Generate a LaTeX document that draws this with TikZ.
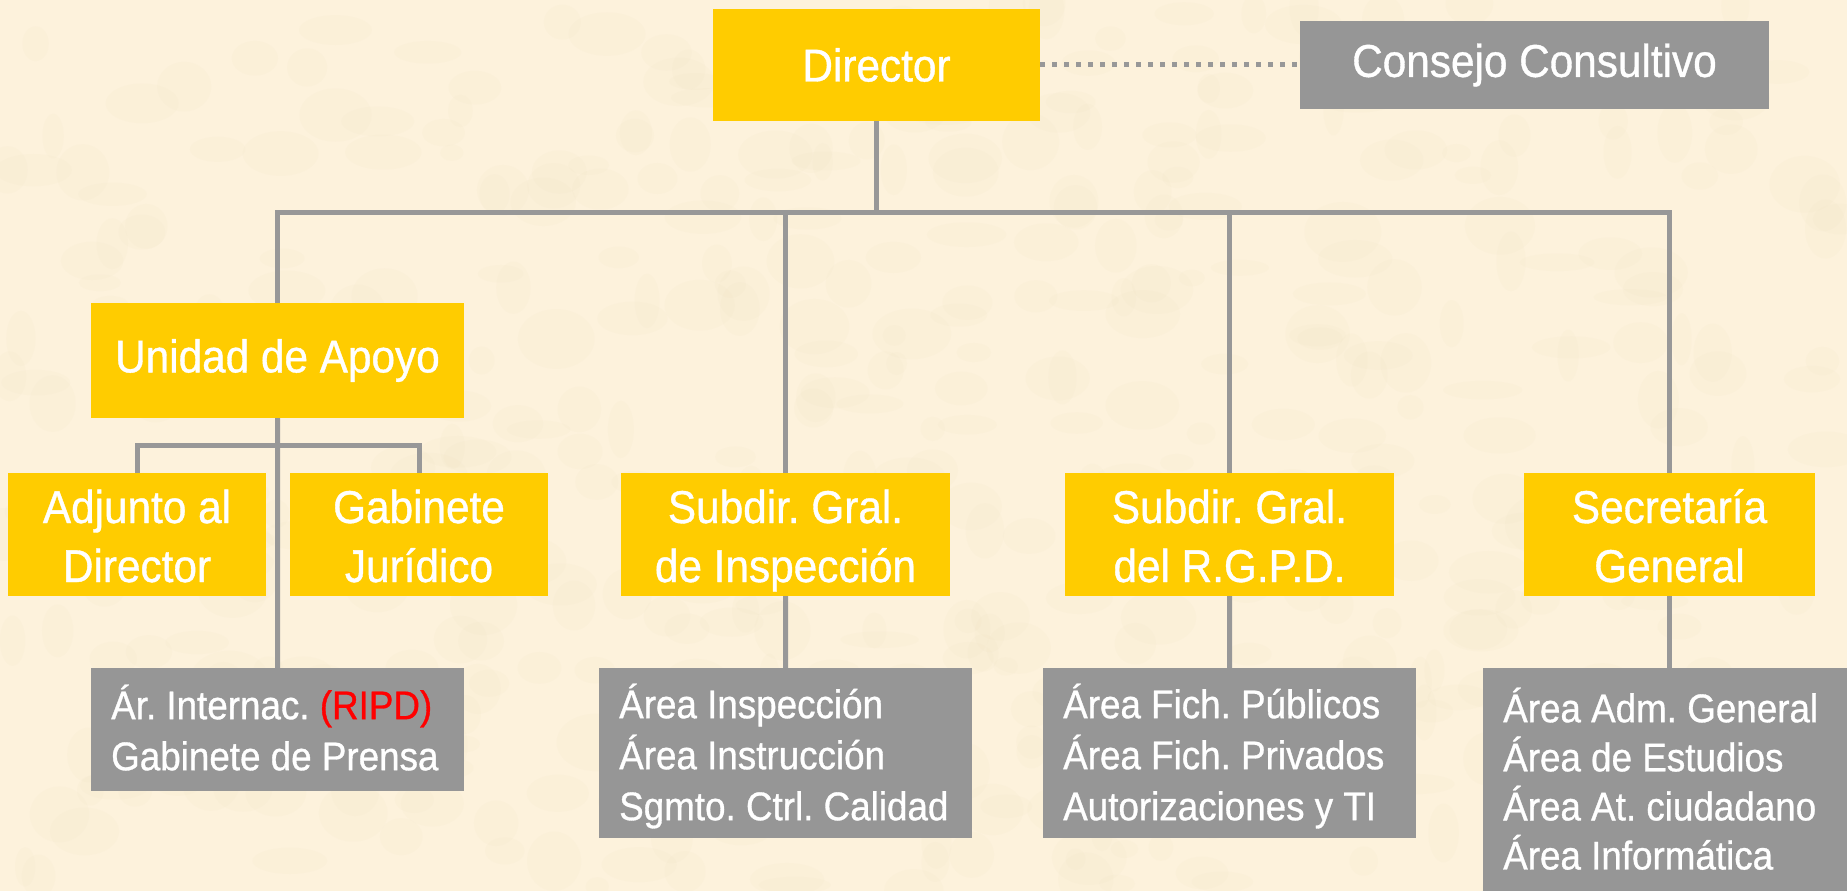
\documentclass[tikz,border=0pt]{standalone}
\usepackage{fontspec}
\setmainfont{Liberation Sans}[FakeStretch=0.92,FakeBold=0.8]
\definecolor{bgc}{RGB}{253,242,220}
\definecolor{blotc}{RGB}{238,224,190}
\definecolor{yelc}{RGB}{255,204,0}
\definecolor{gboxc}{RGB}{150,150,150}
\definecolor{linec}{RGB}{152,152,152}
\definecolor{redc}{RGB}{255,0,0}
% two centred lines: first baseline 36pt below top of the text box, second 59pt lower
\newcommand{\ytwo}[2]{\raisebox{0pt}[36pt][59pt]{\begin{tabular}[t]{@{}c@{}}#1\\#2\end{tabular}}}
% left aligned block of given width, height above first baseline, depth below it
\newcommand{\gtxt}[4]{\makebox[#1][l]{\raisebox{0pt}[#2][#3]{\begin{tabular}[t]{@{}l@{}}#4\end{tabular}}}}
\begin{document}
\frenchspacing
\begin{tikzpicture}[x=1pt,y=-1pt,
  ybox/.style={fill=yelc, text=white, font=\fontsize{46}{59}\selectfont\frenchspacing, inner sep=0pt, minimum height=123pt},
  gtop/.style={fill=gboxc, text=white, font=\fontsize{46}{59}\selectfont, inner sep=0pt},
  gbox/.style={fill=gboxc, text=white, font=\fontsize{40}{51}\selectfont\frenchspacing, inner xsep=20pt, inner ysep=0pt, anchor=north west},
  link/.style={draw=linec, line width=5pt},
  dotlink/.style={draw=linec, line width=5pt, dash pattern=on 5pt off 7pt}
]
\clip (0,0) rectangle (1847,891);
\fill[bgc] (0,0) rectangle (1847,891);
% parchment texture (soft)
\pgfmathsetseed{7}
\foreach \i in {1,...,500}{
  \pgfmathsetmacro{\px}{rnd*1847}
  \pgfmathsetmacro{\py}{rnd*891}
  \pgfmathsetmacro{\rx}{10+rnd*30}
  \pgfmathsetmacro{\ry}{8+rnd*22}
  \fill[blotc, opacity=0.10] (\px,\py) ellipse ({\rx pt} and {\ry pt});
}

% top level
\node[ybox, minimum width=327pt, minimum height=112pt] (dir) at (876.5,65) {Director};
\node[gtop, minimum width=469pt, minimum height=88pt] (cons) at (1534.5,65) {Consejo Consultivo};

% second level
\node[ybox, minimum width=373pt, minimum height=115pt] (unid) at (277.5,360.5) {Unidad de Apoyo};
\node[ybox, minimum width=258pt] (adj) at (137,534.5) {\ytwo{Adjunto al}{Director}};
\node[ybox, minimum width=258pt] (gab) at (419,534.5) {\ytwo{Gabinete}{Jurídico}};
\node[ybox, minimum width=329pt] (insp) at (785.5,534.5) {\ytwo{Subdir. Gral.}{de Inspección}};
\node[ybox, minimum width=329pt] (rgpd) at (1229.5,534.5) {\ytwo{Subdir. Gral.}{del R.G.P.D.}};
\node[ybox, minimum width=291pt] (secr) at (1669.5,534.5) {\ytwo{Secretaría}{General}};

% gray boxes
\node[gbox] (arint) at (91,668) {\gtxt{333pt}{51pt}{72pt}{Ár. Internac. {\color{redc}(RIPD)}\\Gabinete de Prensa}};
\node[gbox] (ainsp) at (599,668) {\gtxt{333pt}{50pt}{120pt}{Área Inspección\\Área Instrucción\\Sgmto. Ctrl. Calidad}};
\node[gbox] (argpd) at (1043,668) {\gtxt{333pt}{50pt}{120pt}{Área Fich. Públicos\\Área Fich. Privados\\Autorizaciones y TI}};
\node[gbox, font=\fontsize{40}{48}\selectfont\frenchspacing] (asecr) at (1483,668) {\gtxt{380pt}{54pt}{190pt}{Área Adm. General\\Área de Estudios\\Área At. ciudadano\\Área Informática}};

% connectors
\coordinate (busL) at (277.5,212.5);
\coordinate (subL) at (137,445);
\draw[dotlink] (dir.east) -- (cons.west);
\draw[link] (unid.north) -- (busL) -- (busL -| secr.north) -- (secr.north);
\draw[link] (dir.south) -- (dir.south |- busL);
\draw[link] (insp.north) -- (insp.north |- busL);
\draw[link] (rgpd.north) -- (rgpd.north |- busL);
\draw[link] (adj.north) -- (subL) -- (subL -| gab.north) -- (gab.north);
\draw[link] (unid.south) -- (arint.north);
\draw[link] (insp.south) -- (ainsp.north);
\draw[link] (rgpd.south) -- (argpd.north);
\draw[link] (secr.south) -- (secr.south |- asecr.north);
\end{tikzpicture}
\end{document}
